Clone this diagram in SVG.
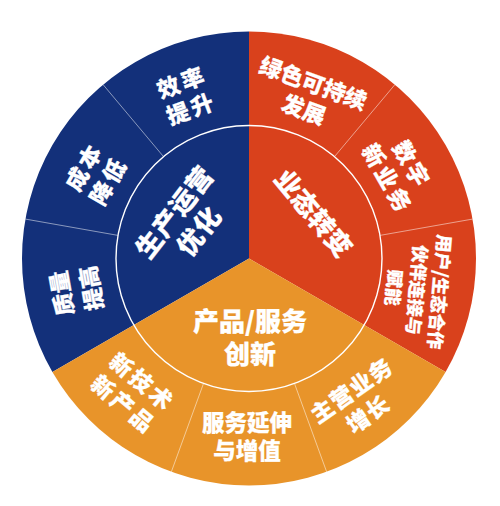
<svg xmlns="http://www.w3.org/2000/svg" width="500" height="506" viewBox="0 0 500 506">
<style>
.t{font-family:"Noto Sans CJK SC","Noto Sans",sans-serif;font-weight:900;fill:#fff;stroke:#fff;stroke-width:0.25;stroke-linejoin:round;text-anchor:middle;dominant-baseline:central}
.in{font-size:26px}
.out{font-size:22.5px}
.sm{font-size:18px}
.dv{stroke:#fff;stroke-opacity:0.5;stroke-width:1;fill:none}
</style>
<rect width="500" height="506" fill="#fff"/>
<g id="sectors">
<path id="sector-ops" d="M249,258.5 L52.41,372 A227,227 0 0 1 249,31.5 Z" fill="#13307a"/>
<path id="sector-biz" d="M249,258.5 L249,31.5 A227,227 0 0 1 445.59,372 Z" fill="#d9411c"/>
<path id="sector-prod" d="M249,258.5 L445.59,372 A227,227 0 0 1 52.41,372 Z" fill="#e8942a"/>
</g>
<g id="connectors">
<line class="dv" x1="118.02" y1="235.40" x2="25.45" y2="219.08"/>
<line class="dv" x1="163.51" y1="156.62" x2="103.09" y2="84.61"/>
<line class="dv" x1="334.49" y1="156.62" x2="394.91" y2="84.61"/>
<line class="dv" x1="379.98" y1="235.40" x2="472.55" y2="219.08"/>
<line class="dv" x1="294.49" y1="383.48" x2="326.64" y2="471.81"/>
<line class="dv" x1="203.51" y1="383.48" x2="171.36" y2="471.81"/>
<circle cx="249" cy="258.5" r="133" fill="none" stroke="#fff" stroke-width="1.4"/>
</g>
<g id="n-xiaolv" transform="translate(186,94) rotate(-20)"><text class="t out" letter-spacing="3"><tspan x="0" y="-14">效率</tspan><tspan x="0" y="14">提升</tspan></text></g>
<g id="n-chengben" transform="translate(95,173) rotate(-60)"><text class="t out" letter-spacing="3"><tspan x="0" y="-14">成本</tspan><tspan x="0" y="14">降低</tspan></text></g>
<g id="n-zhiliang" transform="translate(75,291) rotate(-100)"><text class="t out"><tspan x="0" y="-15">质量</tspan><tspan x="0" y="15">提高</tspan></text></g>
<g id="n-lvse" transform="translate(309,95) rotate(20)"><text class="t out"><tspan x="0" y="-14">绿色可持续</tspan><tspan x="0" y="14">发展</tspan></text></g>
<g id="n-shuzi" transform="translate(401,171) rotate(60)"><text class="t out" letter-spacing="3"><tspan x="0" y="-14">数字</tspan><tspan x="0" y="14">新业务</tspan></text></g>
<g id="n-yonghu" transform="translate(418,290) rotate(95)"><text class="t sm"><tspan x="0" y="-23">用户/生态合作</tspan><tspan x="0" y="0">伙伴连接与</tspan><tspan x="0" y="23">赋能</tspan></text></g>
<g id="n-xinjishu" transform="translate(134,392) rotate(40)"><text class="t out" letter-spacing="3"><tspan x="0" y="-14.5">新技术</tspan><tspan x="0" y="14.5">新产品</tspan></text></g>
<g id="n-fuwu" transform="translate(247,435)"><text class="t out"><tspan x="0" y="-14">服务延伸</tspan><tspan x="0" y="14">与增值</tspan></text></g>
<g id="n-zhuying" transform="translate(359,401) rotate(-35)"><text class="t out" letter-spacing="1"><tspan x="0" y="-14.5">主营业务</tspan><tspan x="0" y="14.5">增长</tspan></text></g>
<g id="n-ops" transform="translate(185,220) rotate(-52)"><text class="t in" letter-spacing="1"><tspan x="0" y="-15.5">生产运营</tspan><tspan x="0" y="15.5">优化</tspan></text></g>
<g id="n-biz" transform="translate(315,212) rotate(50)"><text class="t in">业态转变</text></g>
<g id="n-prod" transform="translate(250,335)"><text class="t" font-size="26"><tspan x="0" y="-16.5">产品/服务</tspan><tspan x="0" y="16.5">创新</tspan></text></g>
</svg>
